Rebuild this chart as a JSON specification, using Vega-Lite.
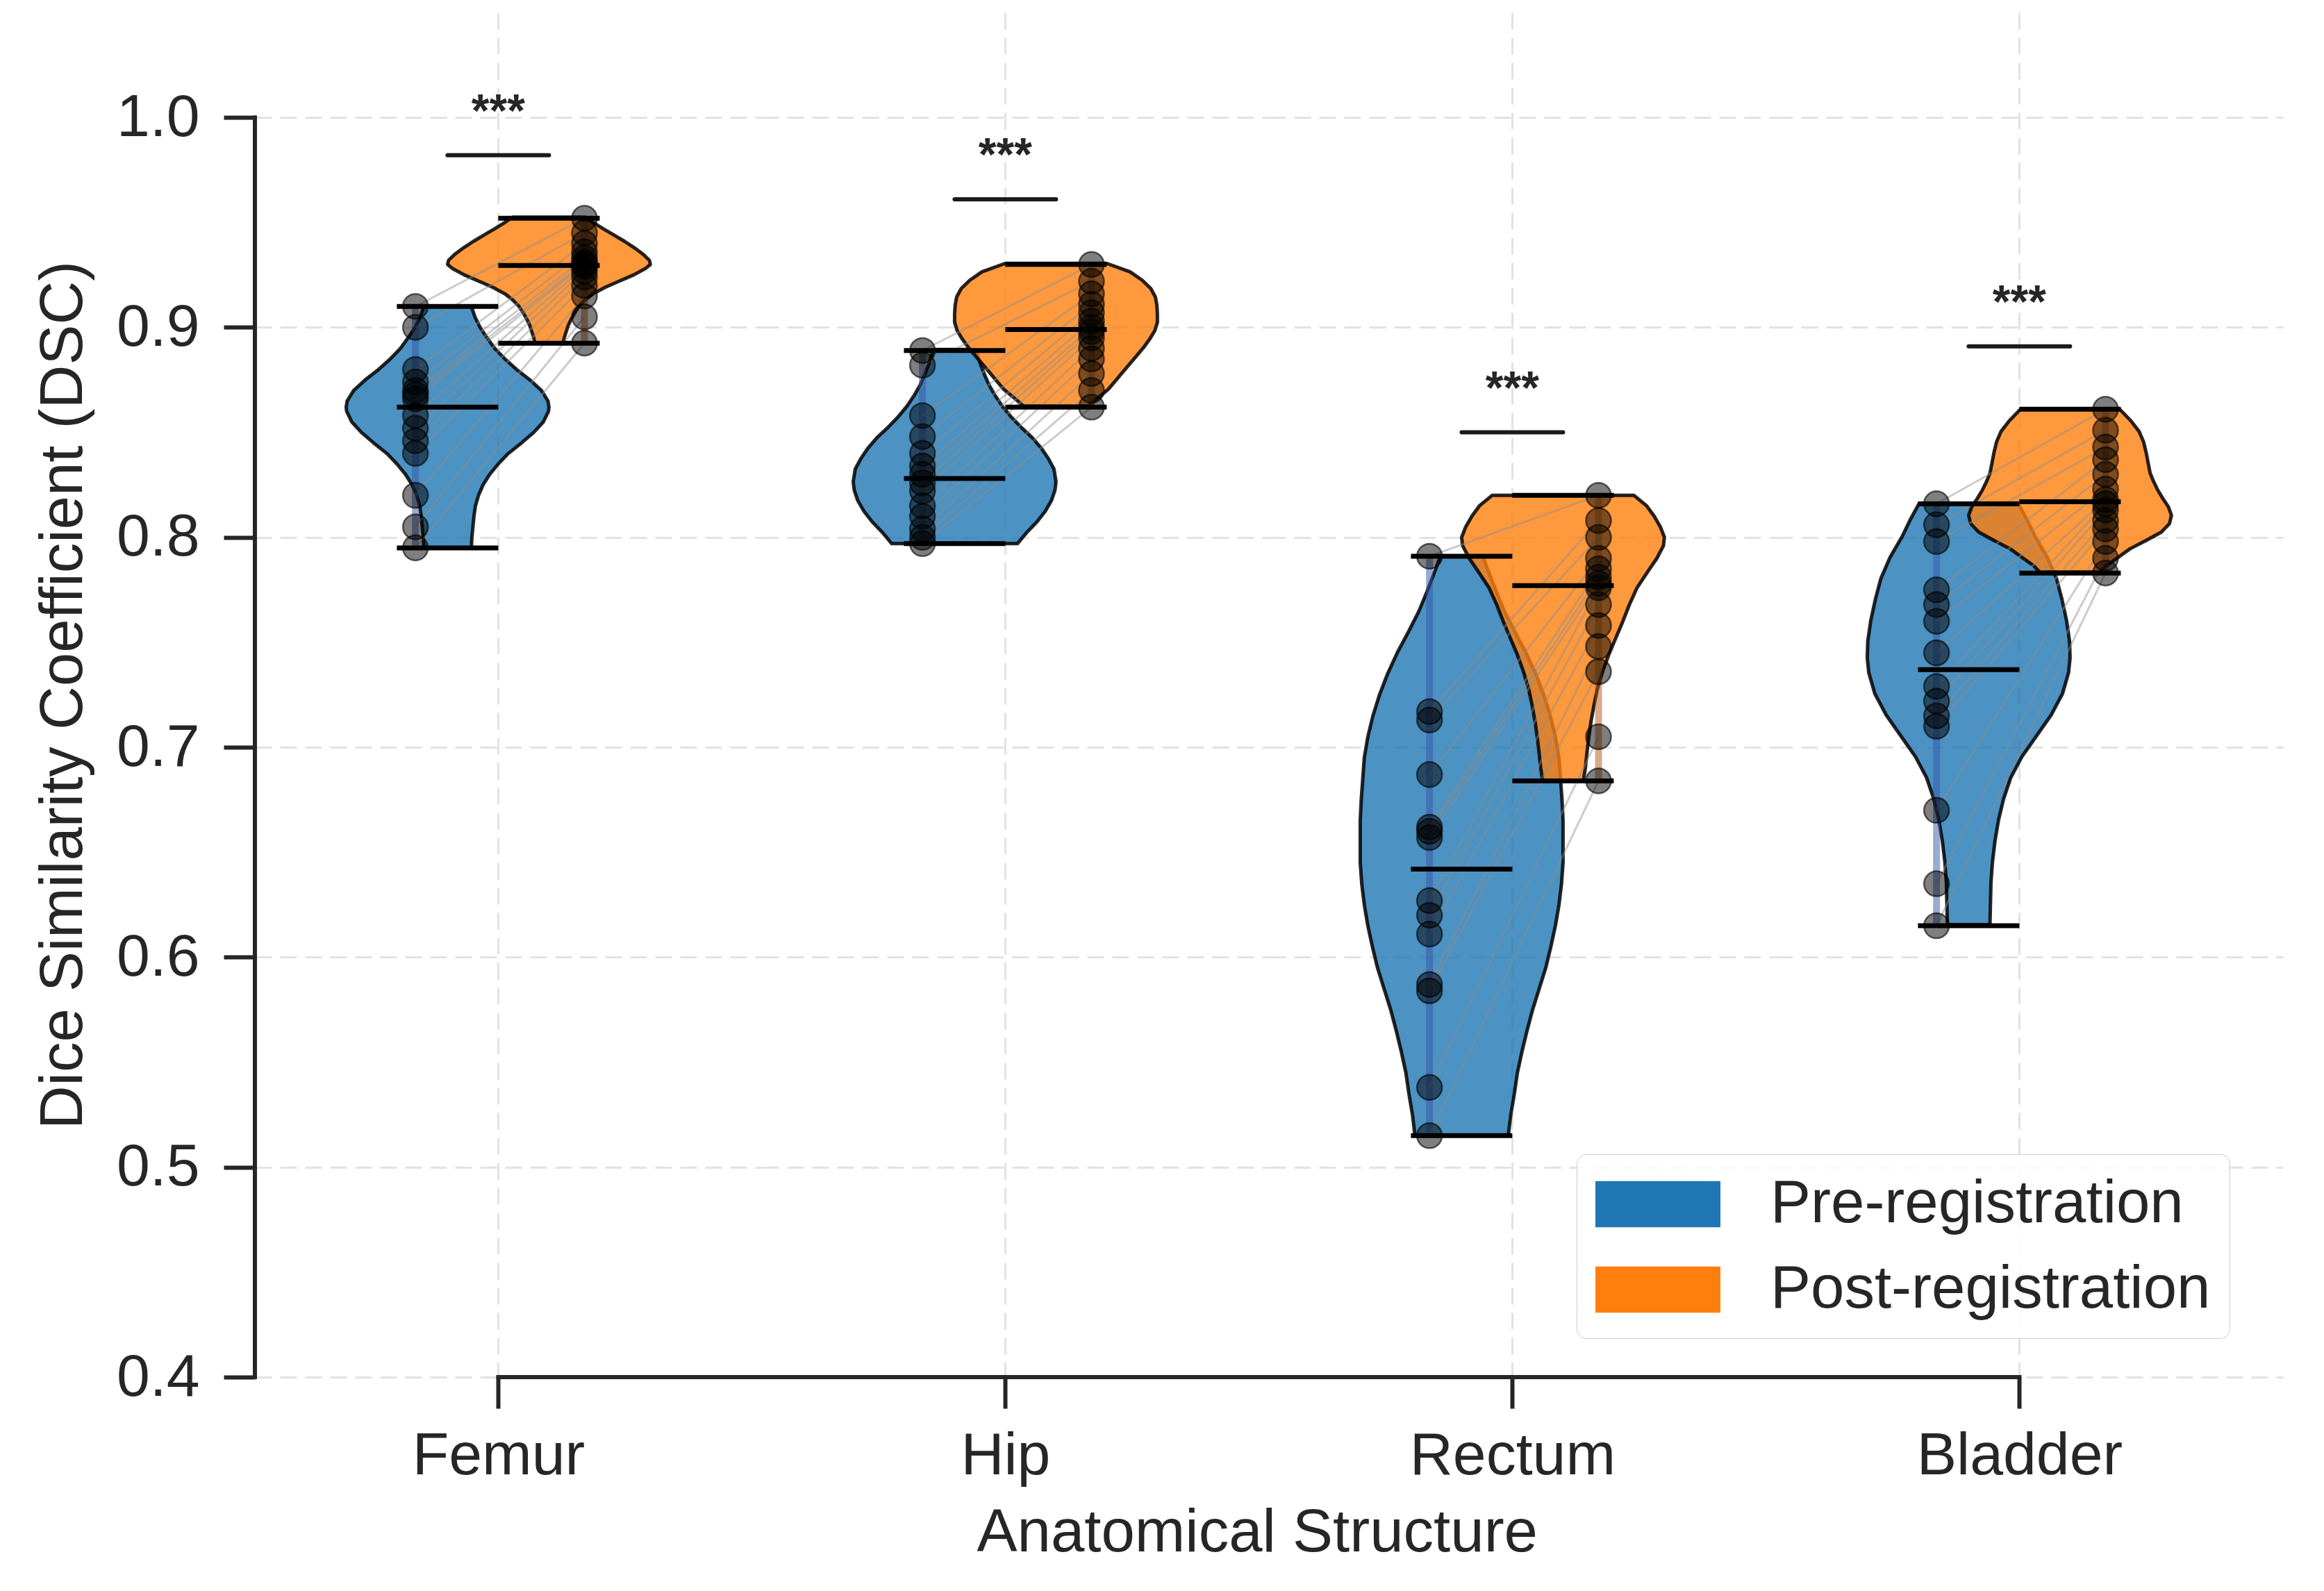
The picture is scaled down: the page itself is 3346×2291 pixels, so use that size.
{
"$schema": "https://vega.github.io/schema/vega-lite/v6.json",
"background": "white",
"padding": {"left": 47, "top": 18, "right": 5, "bottom": 5},
"config": {
  "font": "Liberation Sans",
  "view": {"stroke": null},
  "axis": {"labelFont": "Liberation Sans", "titleFont": "Liberation Sans"},
  "axisY": {"domain": false, "tickSize": 45, "tickWidth": 6, "tickColor": "#262626", "labelFontSize": 86, "labelColor": "#262626", "labelPadding": 35, "grid": true, "gridColor": "#e2e2e2", "gridDash": [24, 12], "gridWidth": 3, "titleFontSize": 87, "titleColor": "#262626", "titleFontWeight": "normal", "titlePadding": 32},
  "axisX": {"domain": false, "tickSize": 45, "tickWidth": 6, "tickColor": "#262626", "labelFontSize": 86, "labelColor": "#262626", "labelPadding": 26, "labelLimit": 0, "grid": true, "gridColor": "#e2e2e2", "gridDash": [24, 12], "gridWidth": 3},
  "legend": {"labelFont": "Liberation Sans"}
},
"title": {"text": "Anatomical Structure", "orient": "bottom", "anchor": "middle", "frame": "bounds", "fontSize": 87, "fontWeight": "normal", "color": "#262626", "font": "Liberation Sans", "offset": 26, "baseline": "top", "dx": 143},
"data": {"values": [
{"kind":"v","structure":"Femur","phase":"Pre-registration","dsc":0.795,"width":0.094},
{"kind":"v","structure":"Femur","phase":"Pre-registration","dsc":0.800,"width":0.096},
{"kind":"v","structure":"Femur","phase":"Pre-registration","dsc":0.805,"width":0.100},
{"kind":"v","structure":"Femur","phase":"Pre-registration","dsc":0.810,"width":0.104},
{"kind":"v","structure":"Femur","phase":"Pre-registration","dsc":0.815,"width":0.110},
{"kind":"v","structure":"Femur","phase":"Pre-registration","dsc":0.820,"width":0.122},
{"kind":"v","structure":"Femur","phase":"Pre-registration","dsc":0.825,"width":0.140},
{"kind":"v","structure":"Femur","phase":"Pre-registration","dsc":0.830,"width":0.166},
{"kind":"v","structure":"Femur","phase":"Pre-registration","dsc":0.835,"width":0.200},
{"kind":"v","structure":"Femur","phase":"Pre-registration","dsc":0.840,"width":0.240},
{"kind":"v","structure":"Femur","phase":"Pre-registration","dsc":0.845,"width":0.292},
{"kind":"v","structure":"Femur","phase":"Pre-registration","dsc":0.850,"width":0.340},
{"kind":"v","structure":"Femur","phase":"Pre-registration","dsc":0.855,"width":0.378},
{"kind":"v","structure":"Femur","phase":"Pre-registration","dsc":0.860,"width":0.398},
{"kind":"v","structure":"Femur","phase":"Pre-registration","dsc":0.862,"width":0.400},
{"kind":"v","structure":"Femur","phase":"Pre-registration","dsc":0.865,"width":0.396},
{"kind":"v","structure":"Femur","phase":"Pre-registration","dsc":0.870,"width":0.370},
{"kind":"v","structure":"Femur","phase":"Pre-registration","dsc":0.875,"width":0.325},
{"kind":"v","structure":"Femur","phase":"Pre-registration","dsc":0.880,"width":0.272},
{"kind":"v","structure":"Femur","phase":"Pre-registration","dsc":0.885,"width":0.226},
{"kind":"v","structure":"Femur","phase":"Pre-registration","dsc":0.890,"width":0.186},
{"kind":"v","structure":"Femur","phase":"Pre-registration","dsc":0.895,"width":0.156},
{"kind":"v","structure":"Femur","phase":"Pre-registration","dsc":0.900,"width":0.128},
{"kind":"v","structure":"Femur","phase":"Pre-registration","dsc":0.905,"width":0.108},
{"kind":"v","structure":"Femur","phase":"Pre-registration","dsc":0.910,"width":0.094},
{"kind":"v","structure":"Hip","phase":"Pre-registration","dsc":0.797,"width":0.248},
{"kind":"v","structure":"Hip","phase":"Pre-registration","dsc":0.8025,"width":0.286},
{"kind":"v","structure":"Hip","phase":"Pre-registration","dsc":0.8075,"width":0.326},
{"kind":"v","structure":"Hip","phase":"Pre-registration","dsc":0.8125,"width":0.358},
{"kind":"v","structure":"Hip","phase":"Pre-registration","dsc":0.8175,"width":0.382},
{"kind":"v","structure":"Hip","phase":"Pre-registration","dsc":0.8225,"width":0.396},
{"kind":"v","structure":"Hip","phase":"Pre-registration","dsc":0.8265,"width":0.400},
{"kind":"v","structure":"Hip","phase":"Pre-registration","dsc":0.8325,"width":0.392},
{"kind":"v","structure":"Hip","phase":"Pre-registration","dsc":0.8375,"width":0.370},
{"kind":"v","structure":"Hip","phase":"Pre-registration","dsc":0.8425,"width":0.342},
{"kind":"v","structure":"Hip","phase":"Pre-registration","dsc":0.8475,"width":0.306},
{"kind":"v","structure":"Hip","phase":"Pre-registration","dsc":0.8525,"width":0.262},
{"kind":"v","structure":"Hip","phase":"Pre-registration","dsc":0.8575,"width":0.222},
{"kind":"v","structure":"Hip","phase":"Pre-registration","dsc":0.8625,"width":0.188},
{"kind":"v","structure":"Hip","phase":"Pre-registration","dsc":0.8675,"width":0.160},
{"kind":"v","structure":"Hip","phase":"Pre-registration","dsc":0.8725,"width":0.136},
{"kind":"v","structure":"Hip","phase":"Pre-registration","dsc":0.8775,"width":0.118},
{"kind":"v","structure":"Hip","phase":"Pre-registration","dsc":0.8825,"width":0.102},
{"kind":"v","structure":"Hip","phase":"Pre-registration","dsc":0.8895,"width":0.084},
{"kind":"v","structure":"Rectum","phase":"Pre-registration","dsc":0.515,"width":0.184},
{"kind":"v","structure":"Rectum","phase":"Pre-registration","dsc":0.525,"width":0.194},
{"kind":"v","structure":"Rectum","phase":"Pre-registration","dsc":0.535,"width":0.208},
{"kind":"v","structure":"Rectum","phase":"Pre-registration","dsc":0.545,"width":0.220},
{"kind":"v","structure":"Rectum","phase":"Pre-registration","dsc":0.555,"width":0.238},
{"kind":"v","structure":"Rectum","phase":"Pre-registration","dsc":0.565,"width":0.258},
{"kind":"v","structure":"Rectum","phase":"Pre-registration","dsc":0.575,"width":0.280},
{"kind":"v","structure":"Rectum","phase":"Pre-registration","dsc":0.585,"width":0.306},
{"kind":"v","structure":"Rectum","phase":"Pre-registration","dsc":0.595,"width":0.332},
{"kind":"v","structure":"Rectum","phase":"Pre-registration","dsc":0.605,"width":0.352},
{"kind":"v","structure":"Rectum","phase":"Pre-registration","dsc":0.615,"width":0.370},
{"kind":"v","structure":"Rectum","phase":"Pre-registration","dsc":0.625,"width":0.384},
{"kind":"v","structure":"Rectum","phase":"Pre-registration","dsc":0.635,"width":0.394},
{"kind":"v","structure":"Rectum","phase":"Pre-registration","dsc":0.645,"width":0.400},
{"kind":"v","structure":"Rectum","phase":"Pre-registration","dsc":0.655,"width":0.400},
{"kind":"v","structure":"Rectum","phase":"Pre-registration","dsc":0.665,"width":0.400},
{"kind":"v","structure":"Rectum","phase":"Pre-registration","dsc":0.675,"width":0.396},
{"kind":"v","structure":"Rectum","phase":"Pre-registration","dsc":0.685,"width":0.390},
{"kind":"v","structure":"Rectum","phase":"Pre-registration","dsc":0.695,"width":0.384},
{"kind":"v","structure":"Rectum","phase":"Pre-registration","dsc":0.705,"width":0.370},
{"kind":"v","structure":"Rectum","phase":"Pre-registration","dsc":0.715,"width":0.350},
{"kind":"v","structure":"Rectum","phase":"Pre-registration","dsc":0.725,"width":0.324},
{"kind":"v","structure":"Rectum","phase":"Pre-registration","dsc":0.735,"width":0.292},
{"kind":"v","structure":"Rectum","phase":"Pre-registration","dsc":0.745,"width":0.254},
{"kind":"v","structure":"Rectum","phase":"Pre-registration","dsc":0.755,"width":0.210},
{"kind":"v","structure":"Rectum","phase":"Pre-registration","dsc":0.765,"width":0.168},
{"kind":"v","structure":"Rectum","phase":"Pre-registration","dsc":0.775,"width":0.134},
{"kind":"v","structure":"Rectum","phase":"Pre-registration","dsc":0.785,"width":0.102},
{"kind":"v","structure":"Rectum","phase":"Pre-registration","dsc":0.791,"width":0.084},
{"kind":"v","structure":"Bladder","phase":"Pre-registration","dsc":0.6155,"width":0.084},
{"kind":"v","structure":"Bladder","phase":"Pre-registration","dsc":0.6255,"width":0.086},
{"kind":"v","structure":"Bladder","phase":"Pre-registration","dsc":0.6355,"width":0.088},
{"kind":"v","structure":"Bladder","phase":"Pre-registration","dsc":0.6455,"width":0.094},
{"kind":"v","structure":"Bladder","phase":"Pre-registration","dsc":0.6555,"width":0.104},
{"kind":"v","structure":"Bladder","phase":"Pre-registration","dsc":0.6655,"width":0.118},
{"kind":"v","structure":"Bladder","phase":"Pre-registration","dsc":0.6755,"width":0.138},
{"kind":"v","structure":"Bladder","phase":"Pre-registration","dsc":0.6855,"width":0.166},
{"kind":"v","structure":"Bladder","phase":"Pre-registration","dsc":0.6955,"width":0.210},
{"kind":"v","structure":"Bladder","phase":"Pre-registration","dsc":0.7055,"width":0.268},
{"kind":"v","structure":"Bladder","phase":"Pre-registration","dsc":0.7155,"width":0.326},
{"kind":"v","structure":"Bladder","phase":"Pre-registration","dsc":0.7255,"width":0.370},
{"kind":"v","structure":"Bladder","phase":"Pre-registration","dsc":0.7355,"width":0.394},
{"kind":"v","structure":"Bladder","phase":"Pre-registration","dsc":0.7425,"width":0.400},
{"kind":"v","structure":"Bladder","phase":"Pre-registration","dsc":0.7505,"width":0.398},
{"kind":"v","structure":"Bladder","phase":"Pre-registration","dsc":0.7605,"width":0.386},
{"kind":"v","structure":"Bladder","phase":"Pre-registration","dsc":0.7705,"width":0.368},
{"kind":"v","structure":"Bladder","phase":"Pre-registration","dsc":0.7805,"width":0.346},
{"kind":"v","structure":"Bladder","phase":"Pre-registration","dsc":0.7905,"width":0.310},
{"kind":"v","structure":"Bladder","phase":"Pre-registration","dsc":0.8005,"width":0.262},
{"kind":"v","structure":"Bladder","phase":"Pre-registration","dsc":0.8085,"width":0.230},
{"kind":"v","structure":"Bladder","phase":"Pre-registration","dsc":0.8160,"width":0.196},
{"kind":"v","structure":"Femur","phase":"Post-registration","dsc":0.8925,"width":0.056},
{"kind":"v","structure":"Femur","phase":"Post-registration","dsc":0.895,"width":0.060},
{"kind":"v","structure":"Femur","phase":"Post-registration","dsc":0.898,"width":0.068},
{"kind":"v","structure":"Femur","phase":"Post-registration","dsc":0.901,"width":0.076},
{"kind":"v","structure":"Femur","phase":"Post-registration","dsc":0.904,"width":0.088},
{"kind":"v","structure":"Femur","phase":"Post-registration","dsc":0.907,"width":0.102},
{"kind":"v","structure":"Femur","phase":"Post-registration","dsc":0.910,"width":0.118},
{"kind":"v","structure":"Femur","phase":"Post-registration","dsc":0.913,"width":0.142},
{"kind":"v","structure":"Femur","phase":"Post-registration","dsc":0.916,"width":0.174},
{"kind":"v","structure":"Femur","phase":"Post-registration","dsc":0.919,"width":0.220},
{"kind":"v","structure":"Femur","phase":"Post-registration","dsc":0.922,"width":0.276},
{"kind":"v","structure":"Femur","phase":"Post-registration","dsc":0.925,"width":0.334},
{"kind":"v","structure":"Femur","phase":"Post-registration","dsc":0.928,"width":0.380},
{"kind":"v","structure":"Femur","phase":"Post-registration","dsc":0.930,"width":0.400},
{"kind":"v","structure":"Femur","phase":"Post-registration","dsc":0.932,"width":0.396},
{"kind":"v","structure":"Femur","phase":"Post-registration","dsc":0.935,"width":0.370},
{"kind":"v","structure":"Femur","phase":"Post-registration","dsc":0.938,"width":0.336},
{"kind":"v","structure":"Femur","phase":"Post-registration","dsc":0.941,"width":0.298},
{"kind":"v","structure":"Femur","phase":"Post-registration","dsc":0.944,"width":0.256},
{"kind":"v","structure":"Femur","phase":"Post-registration","dsc":0.947,"width":0.214},
{"kind":"v","structure":"Femur","phase":"Post-registration","dsc":0.950,"width":0.174},
{"kind":"v","structure":"Femur","phase":"Post-registration","dsc":0.9525,"width":0.144},
{"kind":"v","structure":"Hip","phase":"Post-registration","dsc":0.8625,"width":0.128},
{"kind":"v","structure":"Hip","phase":"Post-registration","dsc":0.8665,"width":0.166},
{"kind":"v","structure":"Hip","phase":"Post-registration","dsc":0.8705,"width":0.206},
{"kind":"v","structure":"Hip","phase":"Post-registration","dsc":0.8745,"width":0.234},
{"kind":"v","structure":"Hip","phase":"Post-registration","dsc":0.8785,"width":0.262},
{"kind":"v","structure":"Hip","phase":"Post-registration","dsc":0.8825,"width":0.290},
{"kind":"v","structure":"Hip","phase":"Post-registration","dsc":0.8865,"width":0.318},
{"kind":"v","structure":"Hip","phase":"Post-registration","dsc":0.8905,"width":0.346},
{"kind":"v","structure":"Hip","phase":"Post-registration","dsc":0.8945,"width":0.370},
{"kind":"v","structure":"Hip","phase":"Post-registration","dsc":0.8985,"width":0.390},
{"kind":"v","structure":"Hip","phase":"Post-registration","dsc":0.9025,"width":0.400},
{"kind":"v","structure":"Hip","phase":"Post-registration","dsc":0.9065,"width":0.400},
{"kind":"v","structure":"Hip","phase":"Post-registration","dsc":0.9105,"width":0.398},
{"kind":"v","structure":"Hip","phase":"Post-registration","dsc":0.9145,"width":0.392},
{"kind":"v","structure":"Hip","phase":"Post-registration","dsc":0.9185,"width":0.374},
{"kind":"v","structure":"Hip","phase":"Post-registration","dsc":0.9225,"width":0.340},
{"kind":"v","structure":"Hip","phase":"Post-registration","dsc":0.9265,"width":0.292},
{"kind":"v","structure":"Hip","phase":"Post-registration","dsc":0.9305,"width":0.200},
{"kind":"v","structure":"Rectum","phase":"Post-registration","dsc":0.684,"width":0.080},
{"kind":"v","structure":"Rectum","phase":"Post-registration","dsc":0.690,"width":0.088},
{"kind":"v","structure":"Rectum","phase":"Post-registration","dsc":0.697,"width":0.094},
{"kind":"v","structure":"Rectum","phase":"Post-registration","dsc":0.705,"width":0.102},
{"kind":"v","structure":"Rectum","phase":"Post-registration","dsc":0.712,"width":0.110},
{"kind":"v","structure":"Rectum","phase":"Post-registration","dsc":0.720,"width":0.122},
{"kind":"v","structure":"Rectum","phase":"Post-registration","dsc":0.728,"width":0.136},
{"kind":"v","structure":"Rectum","phase":"Post-registration","dsc":0.736,"width":0.156},
{"kind":"v","structure":"Rectum","phase":"Post-registration","dsc":0.744,"width":0.180},
{"kind":"v","structure":"Rectum","phase":"Post-registration","dsc":0.752,"width":0.208},
{"kind":"v","structure":"Rectum","phase":"Post-registration","dsc":0.760,"width":0.236},
{"kind":"v","structure":"Rectum","phase":"Post-registration","dsc":0.768,"width":0.262},
{"kind":"v","structure":"Rectum","phase":"Post-registration","dsc":0.776,"width":0.292},
{"kind":"v","structure":"Rectum","phase":"Post-registration","dsc":0.784,"width":0.336},
{"kind":"v","structure":"Rectum","phase":"Post-registration","dsc":0.790,"width":0.370},
{"kind":"v","structure":"Rectum","phase":"Post-registration","dsc":0.796,"width":0.396},
{"kind":"v","structure":"Rectum","phase":"Post-registration","dsc":0.800,"width":0.400},
{"kind":"v","structure":"Rectum","phase":"Post-registration","dsc":0.805,"width":0.384},
{"kind":"v","structure":"Rectum","phase":"Post-registration","dsc":0.810,"width":0.360},
{"kind":"v","structure":"Rectum","phase":"Post-registration","dsc":0.815,"width":0.330},
{"kind":"v","structure":"Rectum","phase":"Post-registration","dsc":0.820,"width":0.280},
{"kind":"v","structure":"Bladder","phase":"Post-registration","dsc":0.7835,"width":0.120},
{"kind":"v","structure":"Bladder","phase":"Post-registration","dsc":0.7865,"width":0.144},
{"kind":"v","structure":"Bladder","phase":"Post-registration","dsc":0.7905,"width":0.190},
{"kind":"v","structure":"Bladder","phase":"Post-registration","dsc":0.7945,"width":0.236},
{"kind":"v","structure":"Bladder","phase":"Post-registration","dsc":0.7985,"width":0.300},
{"kind":"v","structure":"Bladder","phase":"Post-registration","dsc":0.8025,"width":0.360},
{"kind":"v","structure":"Bladder","phase":"Post-registration","dsc":0.8065,"width":0.392},
{"kind":"v","structure":"Bladder","phase":"Post-registration","dsc":0.8105,"width":0.400},
{"kind":"v","structure":"Bladder","phase":"Post-registration","dsc":0.8145,"width":0.388},
{"kind":"v","structure":"Bladder","phase":"Post-registration","dsc":0.8185,"width":0.366},
{"kind":"v","structure":"Bladder","phase":"Post-registration","dsc":0.8225,"width":0.346},
{"kind":"v","structure":"Bladder","phase":"Post-registration","dsc":0.8265,"width":0.330},
{"kind":"v","structure":"Bladder","phase":"Post-registration","dsc":0.8305,"width":0.316},
{"kind":"v","structure":"Bladder","phase":"Post-registration","dsc":0.8355,"width":0.308},
{"kind":"v","structure":"Bladder","phase":"Post-registration","dsc":0.8405,"width":0.300},
{"kind":"v","structure":"Bladder","phase":"Post-registration","dsc":0.8455,"width":0.290},
{"kind":"v","structure":"Bladder","phase":"Post-registration","dsc":0.8505,"width":0.272},
{"kind":"v","structure":"Bladder","phase":"Post-registration","dsc":0.8555,"width":0.240},
{"kind":"v","structure":"Bladder","phase":"Post-registration","dsc":0.8610,"width":0.196},
{"kind":"pt","structure":"Femur","phase":"Pre-registration","patient":"P01","dsc":0.910},
{"kind":"pt","structure":"Femur","phase":"Pre-registration","patient":"P02","dsc":0.900},
{"kind":"pt","structure":"Femur","phase":"Pre-registration","patient":"P03","dsc":0.880},
{"kind":"pt","structure":"Femur","phase":"Pre-registration","patient":"P04","dsc":0.874},
{"kind":"pt","structure":"Femur","phase":"Pre-registration","patient":"P05","dsc":0.870},
{"kind":"pt","structure":"Femur","phase":"Pre-registration","patient":"P06","dsc":0.868},
{"kind":"pt","structure":"Femur","phase":"Pre-registration","patient":"P07","dsc":0.866},
{"kind":"pt","structure":"Femur","phase":"Pre-registration","patient":"P08","dsc":0.858},
{"kind":"pt","structure":"Femur","phase":"Pre-registration","patient":"P09","dsc":0.852},
{"kind":"pt","structure":"Femur","phase":"Pre-registration","patient":"P10","dsc":0.846},
{"kind":"pt","structure":"Femur","phase":"Pre-registration","patient":"P11","dsc":0.840},
{"kind":"pt","structure":"Femur","phase":"Pre-registration","patient":"P12","dsc":0.820},
{"kind":"pt","structure":"Femur","phase":"Pre-registration","patient":"P13","dsc":0.805},
{"kind":"pt","structure":"Femur","phase":"Pre-registration","patient":"P14","dsc":0.795},
{"kind":"pt","structure":"Femur","phase":"Post-registration","patient":"P01","dsc":0.952},
{"kind":"pt","structure":"Femur","phase":"Post-registration","patient":"P02","dsc":0.945},
{"kind":"pt","structure":"Femur","phase":"Post-registration","patient":"P03","dsc":0.940},
{"kind":"pt","structure":"Femur","phase":"Post-registration","patient":"P04","dsc":0.936},
{"kind":"pt","structure":"Femur","phase":"Post-registration","patient":"P05","dsc":0.933},
{"kind":"pt","structure":"Femur","phase":"Post-registration","patient":"P06","dsc":0.931},
{"kind":"pt","structure":"Femur","phase":"Post-registration","patient":"P07","dsc":0.930},
{"kind":"pt","structure":"Femur","phase":"Post-registration","patient":"P08","dsc":0.929},
{"kind":"pt","structure":"Femur","phase":"Post-registration","patient":"P09","dsc":0.927},
{"kind":"pt","structure":"Femur","phase":"Post-registration","patient":"P10","dsc":0.924},
{"kind":"pt","structure":"Femur","phase":"Post-registration","patient":"P11","dsc":0.920},
{"kind":"pt","structure":"Femur","phase":"Post-registration","patient":"P12","dsc":0.915},
{"kind":"pt","structure":"Femur","phase":"Post-registration","patient":"P13","dsc":0.905},
{"kind":"pt","structure":"Femur","phase":"Post-registration","patient":"P14","dsc":0.8925},
{"kind":"pt","structure":"Hip","phase":"Pre-registration","patient":"P01","dsc":0.889},
{"kind":"pt","structure":"Hip","phase":"Pre-registration","patient":"P02","dsc":0.882},
{"kind":"pt","structure":"Hip","phase":"Pre-registration","patient":"P03","dsc":0.858},
{"kind":"pt","structure":"Hip","phase":"Pre-registration","patient":"P04","dsc":0.848},
{"kind":"pt","structure":"Hip","phase":"Pre-registration","patient":"P05","dsc":0.840},
{"kind":"pt","structure":"Hip","phase":"Pre-registration","patient":"P06","dsc":0.834},
{"kind":"pt","structure":"Hip","phase":"Pre-registration","patient":"P07","dsc":0.830},
{"kind":"pt","structure":"Hip","phase":"Pre-registration","patient":"P08","dsc":0.826},
{"kind":"pt","structure":"Hip","phase":"Pre-registration","patient":"P09","dsc":0.822},
{"kind":"pt","structure":"Hip","phase":"Pre-registration","patient":"P10","dsc":0.815},
{"kind":"pt","structure":"Hip","phase":"Pre-registration","patient":"P11","dsc":0.810},
{"kind":"pt","structure":"Hip","phase":"Pre-registration","patient":"P12","dsc":0.804},
{"kind":"pt","structure":"Hip","phase":"Pre-registration","patient":"P13","dsc":0.800},
{"kind":"pt","structure":"Hip","phase":"Pre-registration","patient":"P14","dsc":0.797},
{"kind":"pt","structure":"Hip","phase":"Post-registration","patient":"P01","dsc":0.930},
{"kind":"pt","structure":"Hip","phase":"Post-registration","patient":"P02","dsc":0.922},
{"kind":"pt","structure":"Hip","phase":"Post-registration","patient":"P03","dsc":0.916},
{"kind":"pt","structure":"Hip","phase":"Post-registration","patient":"P04","dsc":0.911},
{"kind":"pt","structure":"Hip","phase":"Post-registration","patient":"P05","dsc":0.907},
{"kind":"pt","structure":"Hip","phase":"Post-registration","patient":"P06","dsc":0.903},
{"kind":"pt","structure":"Hip","phase":"Post-registration","patient":"P07","dsc":0.900},
{"kind":"pt","structure":"Hip","phase":"Post-registration","patient":"P08","dsc":0.898},
{"kind":"pt","structure":"Hip","phase":"Post-registration","patient":"P09","dsc":0.895},
{"kind":"pt","structure":"Hip","phase":"Post-registration","patient":"P10","dsc":0.890},
{"kind":"pt","structure":"Hip","phase":"Post-registration","patient":"P11","dsc":0.885},
{"kind":"pt","structure":"Hip","phase":"Post-registration","patient":"P12","dsc":0.878},
{"kind":"pt","structure":"Hip","phase":"Post-registration","patient":"P13","dsc":0.870},
{"kind":"pt","structure":"Hip","phase":"Post-registration","patient":"P14","dsc":0.862},
{"kind":"pt","structure":"Rectum","phase":"Pre-registration","patient":"P01","dsc":0.791},
{"kind":"pt","structure":"Rectum","phase":"Pre-registration","patient":"P02","dsc":0.717},
{"kind":"pt","structure":"Rectum","phase":"Pre-registration","patient":"P03","dsc":0.713},
{"kind":"pt","structure":"Rectum","phase":"Pre-registration","patient":"P04","dsc":0.687},
{"kind":"pt","structure":"Rectum","phase":"Pre-registration","patient":"P05","dsc":0.662},
{"kind":"pt","structure":"Rectum","phase":"Pre-registration","patient":"P06","dsc":0.660},
{"kind":"pt","structure":"Rectum","phase":"Pre-registration","patient":"P07","dsc":0.657},
{"kind":"pt","structure":"Rectum","phase":"Pre-registration","patient":"P08","dsc":0.627},
{"kind":"pt","structure":"Rectum","phase":"Pre-registration","patient":"P09","dsc":0.620},
{"kind":"pt","structure":"Rectum","phase":"Pre-registration","patient":"P10","dsc":0.611},
{"kind":"pt","structure":"Rectum","phase":"Pre-registration","patient":"P11","dsc":0.587},
{"kind":"pt","structure":"Rectum","phase":"Pre-registration","patient":"P12","dsc":0.584},
{"kind":"pt","structure":"Rectum","phase":"Pre-registration","patient":"P13","dsc":0.538},
{"kind":"pt","structure":"Rectum","phase":"Pre-registration","patient":"P14","dsc":0.515},
{"kind":"pt","structure":"Rectum","phase":"Post-registration","patient":"P01","dsc":0.820},
{"kind":"pt","structure":"Rectum","phase":"Post-registration","patient":"P02","dsc":0.808},
{"kind":"pt","structure":"Rectum","phase":"Post-registration","patient":"P03","dsc":0.800},
{"kind":"pt","structure":"Rectum","phase":"Post-registration","patient":"P04","dsc":0.790},
{"kind":"pt","structure":"Rectum","phase":"Post-registration","patient":"P05","dsc":0.785},
{"kind":"pt","structure":"Rectum","phase":"Post-registration","patient":"P06","dsc":0.781},
{"kind":"pt","structure":"Rectum","phase":"Post-registration","patient":"P07","dsc":0.778},
{"kind":"pt","structure":"Rectum","phase":"Post-registration","patient":"P08","dsc":0.776},
{"kind":"pt","structure":"Rectum","phase":"Post-registration","patient":"P09","dsc":0.768},
{"kind":"pt","structure":"Rectum","phase":"Post-registration","patient":"P10","dsc":0.758},
{"kind":"pt","structure":"Rectum","phase":"Post-registration","patient":"P11","dsc":0.748},
{"kind":"pt","structure":"Rectum","phase":"Post-registration","patient":"P12","dsc":0.736},
{"kind":"pt","structure":"Rectum","phase":"Post-registration","patient":"P13","dsc":0.705},
{"kind":"pt","structure":"Rectum","phase":"Post-registration","patient":"P14","dsc":0.684},
{"kind":"pt","structure":"Bladder","phase":"Pre-registration","patient":"P01","dsc":0.816},
{"kind":"pt","structure":"Bladder","phase":"Pre-registration","patient":"P02","dsc":0.806},
{"kind":"pt","structure":"Bladder","phase":"Pre-registration","patient":"P03","dsc":0.798},
{"kind":"pt","structure":"Bladder","phase":"Pre-registration","patient":"P04","dsc":0.775},
{"kind":"pt","structure":"Bladder","phase":"Pre-registration","patient":"P05","dsc":0.768},
{"kind":"pt","structure":"Bladder","phase":"Pre-registration","patient":"P06","dsc":0.760},
{"kind":"pt","structure":"Bladder","phase":"Pre-registration","patient":"P07","dsc":0.745},
{"kind":"pt","structure":"Bladder","phase":"Pre-registration","patient":"P08","dsc":0.729},
{"kind":"pt","structure":"Bladder","phase":"Pre-registration","patient":"P09","dsc":0.722},
{"kind":"pt","structure":"Bladder","phase":"Pre-registration","patient":"P10","dsc":0.715},
{"kind":"pt","structure":"Bladder","phase":"Pre-registration","patient":"P11","dsc":0.710},
{"kind":"pt","structure":"Bladder","phase":"Pre-registration","patient":"P12","dsc":0.670},
{"kind":"pt","structure":"Bladder","phase":"Pre-registration","patient":"P13","dsc":0.635},
{"kind":"pt","structure":"Bladder","phase":"Pre-registration","patient":"P14","dsc":0.615},
{"kind":"pt","structure":"Bladder","phase":"Post-registration","patient":"P01","dsc":0.861},
{"kind":"pt","structure":"Bladder","phase":"Post-registration","patient":"P02","dsc":0.851},
{"kind":"pt","structure":"Bladder","phase":"Post-registration","patient":"P03","dsc":0.843},
{"kind":"pt","structure":"Bladder","phase":"Post-registration","patient":"P04","dsc":0.837},
{"kind":"pt","structure":"Bladder","phase":"Post-registration","patient":"P05","dsc":0.830},
{"kind":"pt","structure":"Bladder","phase":"Post-registration","patient":"P06","dsc":0.823},
{"kind":"pt","structure":"Bladder","phase":"Post-registration","patient":"P07","dsc":0.818},
{"kind":"pt","structure":"Bladder","phase":"Post-registration","patient":"P08","dsc":0.816},
{"kind":"pt","structure":"Bladder","phase":"Post-registration","patient":"P09","dsc":0.813},
{"kind":"pt","structure":"Bladder","phase":"Post-registration","patient":"P10","dsc":0.808},
{"kind":"pt","structure":"Bladder","phase":"Post-registration","patient":"P11","dsc":0.804},
{"kind":"pt","structure":"Bladder","phase":"Post-registration","patient":"P12","dsc":0.798},
{"kind":"pt","structure":"Bladder","phase":"Post-registration","patient":"P13","dsc":0.790},
{"kind":"pt","structure":"Bladder","phase":"Post-registration","patient":"P14","dsc":0.783},
{"kind":"sig","structure":"Femur","level":0.982,"label":"***"},
{"kind":"sig","structure":"Hip","level":0.961,"label":"***"},
{"kind":"sig","structure":"Rectum","level":0.850,"label":"***"},
{"kind":"sig","structure":"Bladder","level":0.891,"label":"***"}
]},
"spacing": 0,
"bounds": "flush",
"resolve": {"scale": {"color": "shared"}},
"hconcat": [
{
  "width": 730, "height": 1965,
  "transform": [{"filter": "datum.structure === 'Femur'"}],
  "resolve": {"scale": {"x": "independent"}},
  "layer": [
    {"transform": [{"filter": "datum.kind === 'sig'"}],
     "mark": {"type": "rule", "stroke": "#1a1a1a", "strokeWidth": 6, "strokeCap": "round"},
     "encoding": {
       "x": {"datum": -0.1, "type": "quantitative", "scale": {"domain": [-0.48, 0.52], "nice": false, "zero": false}, "axis": {"values": [0], "labelExpr": "'Femur'", "title": null}},
       "x2": {"datum": 0.1},
       "y": {"field": "level", "type": "quantitative", "scale": {"domain": [0.4, 1.05], "nice": false, "zero": false}, "axis": {"values": [0.4, 0.5, 0.6, 0.7, 0.8, 0.9, 1.0], "format": ".1f", "title": "Dice Similarity Coefficient (DSC)"}}}},
    {"transform": [{"filter": "datum.kind === 'v' && datum.phase === 'Pre-registration'"}],
     "mark": {"type": "area", "orient": "horizontal", "fillOpacity": 0.8, "stroke": "#000000", "strokeOpacity": 0.85, "strokeWidth": 5, "strokeJoin": "round"},
     "encoding": {
       "y": {"field": "dsc", "type": "quantitative", "axis": {"values": [0.4, 0.5, 0.6, 0.7, 0.8, 0.9, 1.0], "format": ".1f", "title": "Dice Similarity Coefficient (DSC)"}},
       "x": {"field": "width", "type": "quantitative", "stack": "center", "impute": null, "scale": {"domain": [-0.18, 0.82], "nice": false, "zero": false}, "axis": null},
       "color": {"field": "phase", "type": "nominal", "scale": {"domain": ["Pre-registration", "Post-registration"], "range": ["#1f77b4", "#ff7f0e"]},
         "legend": {"orient": "none", "legendX": 1903, "legendY": 1644, "title": null, "symbolType": "M-1,-0.74H3V0.74H-1Z", "symbolSize": 8100, "symbolStrokeWidth": 0, "symbolOpacity": 1, "labelFontSize": 87, "labelColor": "#262626", "labelOffset": 162, "rowPadding": 35, "padding": 27, "cornerRadius": 14, "strokeColor": "#cccccc", "fillColor": "rgba(255,255,255,0.85)", "labelLimit": 0,
           "encode": {"symbols": {"update": {"fillOpacity": {"value": 1}, "strokeWidth": {"value": 0}}}}}}}},
    {"transform": [{"filter": "datum.kind === 'v' && datum.phase === 'Post-registration'"}],
     "mark": {"type": "area", "orient": "horizontal", "fillOpacity": 0.8, "stroke": "#000000", "strokeOpacity": 0.85, "strokeWidth": 5, "strokeJoin": "round"},
     "encoding": {
       "y": {"field": "dsc", "type": "quantitative", "axis": {"values": [0.4, 0.5, 0.6, 0.7, 0.8, 0.9, 1.0], "format": ".1f", "title": "Dice Similarity Coefficient (DSC)"}},
       "x": {"field": "width", "type": "quantitative", "stack": "center", "impute": null, "scale": {"domain": [-0.38, 0.62], "nice": false, "zero": false}, "axis": null},
       "color": {"field": "phase", "type": "nominal", "scale": {"domain": ["Pre-registration", "Post-registration"], "range": ["#1f77b4", "#ff7f0e"]}}}},
    {"transform": [{"filter": "datum.kind === 'pt'"}],
     "mark": {"type": "rule", "strokeWidth": 10, "strokeOpacity": 0.5},
     "encoding": {
       "x": {"field": "phase", "type": "nominal", "scale": {"type": "point", "domain": ["Pre-registration", "Post-registration"], "padding": 2, "align": 0.475}, "axis": null},
       "y": {"aggregate": "min", "field": "dsc", "type": "quantitative", "axis": {"values": [0.4, 0.5, 0.6, 0.7, 0.8, 0.9, 1.0], "format": ".1f", "title": "Dice Similarity Coefficient (DSC)"}},
       "y2": {"aggregate": "max", "field": "dsc"},
       "stroke": {"field": "phase", "type": "nominal", "scale": {"domain": ["Pre-registration", "Post-registration"], "range": ["#3355aa", "#b35a10"]}, "legend": null}}},
    {"transform": [{"filter": "datum.kind === 'pt'"}],
     "mark": {"type": "line", "stroke": "#8c8c8c", "strokeWidth": 3, "strokeOpacity": 0.45},
     "encoding": {
       "x": {"field": "phase", "type": "nominal", "scale": {"type": "point", "domain": ["Pre-registration", "Post-registration"], "padding": 2, "align": 0.475}, "axis": null},
       "y": {"field": "dsc", "type": "quantitative", "axis": {"values": [0.4, 0.5, 0.6, 0.7, 0.8, 0.9, 1.0], "format": ".1f", "title": "Dice Similarity Coefficient (DSC)"}},
       "detail": {"field": "patient", "type": "nominal"}}},
    {"transform": [{"filter": "datum.kind === 'pt'"}],
     "mark": {"type": "circle", "size": 1300, "fill": "#000000", "fillOpacity": 0.5, "stroke": "#000000", "strokeWidth": 2.5, "strokeOpacity": 0.6},
     "encoding": {
       "x": {"field": "phase", "type": "nominal", "scale": {"type": "point", "domain": ["Pre-registration", "Post-registration"], "padding": 2, "align": 0.475}, "axis": null},
       "y": {"field": "dsc", "type": "quantitative", "axis": {"values": [0.4, 0.5, 0.6, 0.7, 0.8, 0.9, 1.0], "format": ".1f", "title": "Dice Similarity Coefficient (DSC)"}}}},
    {"transform": [{"filter": "datum.kind === 'pt' && datum.phase === 'Pre-registration'"},
       {"aggregate": [{"op": "min", "field": "dsc", "as": "mn"}, {"op": "median", "field": "dsc", "as": "md"}, {"op": "max", "field": "dsc", "as": "mx"}], "groupby": ["structure"]},
       {"fold": ["mn", "md", "mx"], "as": ["stat", "value"]}],
     "mark": {"type": "rule", "stroke": "#000000", "strokeWidth": 7},
     "encoding": {
       "x": {"datum": -0.2, "type": "quantitative", "scale": {"domain": [-0.48, 0.52], "nice": false, "zero": false}, "axis": null},
       "x2": {"datum": 0.0},
       "y": {"field": "value", "type": "quantitative", "axis": {"values": [0.4, 0.5, 0.6, 0.7, 0.8, 0.9, 1.0], "format": ".1f", "title": "Dice Similarity Coefficient (DSC)"}}}},
    {"transform": [{"filter": "datum.kind === 'pt' && datum.phase === 'Post-registration'"},
       {"aggregate": [{"op": "min", "field": "dsc", "as": "mn"}, {"op": "median", "field": "dsc", "as": "md"}, {"op": "max", "field": "dsc", "as": "mx"}], "groupby": ["structure"]},
       {"fold": ["mn", "md", "mx"], "as": ["stat", "value"]}],
     "mark": {"type": "rule", "stroke": "#000000", "strokeWidth": 7},
     "encoding": {
       "x": {"datum": 0.0, "type": "quantitative", "scale": {"domain": [-0.48, 0.52], "nice": false, "zero": false}, "axis": null},
       "x2": {"datum": 0.2},
       "y": {"field": "value", "type": "quantitative", "axis": {"values": [0.4, 0.5, 0.6, 0.7, 0.8, 0.9, 1.0], "format": ".1f", "title": "Dice Similarity Coefficient (DSC)"}}}},
    {"transform": [{"filter": "datum.kind === 'sig'"}],
     "mark": {"type": "text", "fontSize": 66, "fontWeight": "bold", "color": "#262626", "align": "center", "baseline": "alphabetic", "dy": -42},
     "encoding": {
       "x": {"datum": 0, "type": "quantitative", "scale": {"domain": [-0.48, 0.52], "nice": false, "zero": false}, "axis": null},
       "y": {"field": "level", "type": "quantitative", "axis": {"values": [0.4, 0.5, 0.6, 0.7, 0.8, 0.9, 1.0], "format": ".1f", "title": "Dice Similarity Coefficient (DSC)"}},
       "text": {"field": "label", "type": "nominal"}}},
    {"transform": [{"filter": "datum.kind === 'sig'"}],
     "mark": {"type": "rule", "stroke": "#262626", "strokeWidth": 6, "strokeCap": "square"},
     "encoding": {
       "x": {"datum": -0.48, "type": "quantitative", "scale": {"domain": [-0.48, 0.52], "nice": false, "zero": false}, "axis": null},
       "y": {"datum": 0.4, "type": "quantitative", "axis": {"values": [0.4, 0.5, 0.6, 0.7, 0.8, 0.9, 1.0], "format": ".1f", "title": "Dice Similarity Coefficient (DSC)"}},
       "y2": {"datum": 1.0}}},
    {"transform": [{"filter": "datum.kind === 'sig'"}],
     "mark": {"type": "rule", "stroke": "#262626", "strokeWidth": 6, "strokeCap": "square"},
     "encoding": {
       "x": {"datum": 0.0, "type": "quantitative", "scale": {"domain": [-0.48, 0.52], "nice": false, "zero": false}, "axis": null},
       "x2": {"datum": 0.52},
       "y": {"datum": 0.4, "type": "quantitative", "axis": {"values": [0.4, 0.5, 0.6, 0.7, 0.8, 0.9, 1.0], "format": ".1f", "title": "Dice Similarity Coefficient (DSC)"}}}}
  ]
},
{
  "width": 730, "height": 1965,
  "transform": [{"filter": "datum.structure === 'Hip'"}],
  "resolve": {"scale": {"x": "independent"}},
  "layer": [
    {"transform": [{"filter": "datum.kind === 'sig'"}],
     "mark": {"type": "rule", "stroke": "#1a1a1a", "strokeWidth": 6, "strokeCap": "round"},
     "encoding": {
       "x": {"datum": -0.1, "type": "quantitative", "scale": {"domain": [-0.48, 0.52], "nice": false, "zero": false}, "axis": {"values": [0], "labelExpr": "'Hip'", "title": null}},
       "x2": {"datum": 0.1},
       "y": {"field": "level", "type": "quantitative", "scale": {"domain": [0.4, 1.05], "nice": false, "zero": false}, "axis": {"values": [0.4, 0.5, 0.6, 0.7, 0.8, 0.9, 1.0], "labels": false, "ticks": false, "title": null}}}},
    {"transform": [{"filter": "datum.kind === 'v' && datum.phase === 'Pre-registration'"}],
     "mark": {"type": "area", "orient": "horizontal", "fillOpacity": 0.8, "stroke": "#000000", "strokeOpacity": 0.85, "strokeWidth": 5, "strokeJoin": "round"},
     "encoding": {
       "y": {"field": "dsc", "type": "quantitative", "axis": {"values": [0.4, 0.5, 0.6, 0.7, 0.8, 0.9, 1.0], "labels": false, "ticks": false, "title": null}},
       "x": {"field": "width", "type": "quantitative", "stack": "center", "impute": null, "scale": {"domain": [-0.18, 0.82], "nice": false, "zero": false}, "axis": null},
       "color": {"field": "phase", "type": "nominal", "scale": {"domain": ["Pre-registration", "Post-registration"], "range": ["#1f77b4", "#ff7f0e"]}}}},
    {"transform": [{"filter": "datum.kind === 'v' && datum.phase === 'Post-registration'"}],
     "mark": {"type": "area", "orient": "horizontal", "fillOpacity": 0.8, "stroke": "#000000", "strokeOpacity": 0.85, "strokeWidth": 5, "strokeJoin": "round"},
     "encoding": {
       "y": {"field": "dsc", "type": "quantitative", "axis": {"values": [0.4, 0.5, 0.6, 0.7, 0.8, 0.9, 1.0], "labels": false, "ticks": false, "title": null}},
       "x": {"field": "width", "type": "quantitative", "stack": "center", "impute": null, "scale": {"domain": [-0.38, 0.62], "nice": false, "zero": false}, "axis": null},
       "color": {"field": "phase", "type": "nominal", "scale": {"domain": ["Pre-registration", "Post-registration"], "range": ["#1f77b4", "#ff7f0e"]}}}},
    {"transform": [{"filter": "datum.kind === 'pt'"}],
     "mark": {"type": "rule", "strokeWidth": 10, "strokeOpacity": 0.5},
     "encoding": {
       "x": {"field": "phase", "type": "nominal", "scale": {"type": "point", "domain": ["Pre-registration", "Post-registration"], "padding": 2, "align": 0.475}, "axis": null},
       "y": {"aggregate": "min", "field": "dsc", "type": "quantitative", "axis": {"values": [0.4, 0.5, 0.6, 0.7, 0.8, 0.9, 1.0], "labels": false, "ticks": false, "title": null}},
       "y2": {"aggregate": "max", "field": "dsc"},
       "stroke": {"field": "phase", "type": "nominal", "scale": {"domain": ["Pre-registration", "Post-registration"], "range": ["#3355aa", "#b35a10"]}, "legend": null}}},
    {"transform": [{"filter": "datum.kind === 'pt'"}],
     "mark": {"type": "line", "stroke": "#8c8c8c", "strokeWidth": 3, "strokeOpacity": 0.45},
     "encoding": {
       "x": {"field": "phase", "type": "nominal", "scale": {"type": "point", "domain": ["Pre-registration", "Post-registration"], "padding": 2, "align": 0.475}, "axis": null},
       "y": {"field": "dsc", "type": "quantitative", "axis": {"values": [0.4, 0.5, 0.6, 0.7, 0.8, 0.9, 1.0], "labels": false, "ticks": false, "title": null}},
       "detail": {"field": "patient", "type": "nominal"}}},
    {"transform": [{"filter": "datum.kind === 'pt'"}],
     "mark": {"type": "circle", "size": 1300, "fill": "#000000", "fillOpacity": 0.5, "stroke": "#000000", "strokeWidth": 2.5, "strokeOpacity": 0.6},
     "encoding": {
       "x": {"field": "phase", "type": "nominal", "scale": {"type": "point", "domain": ["Pre-registration", "Post-registration"], "padding": 2, "align": 0.475}, "axis": null},
       "y": {"field": "dsc", "type": "quantitative", "axis": {"values": [0.4, 0.5, 0.6, 0.7, 0.8, 0.9, 1.0], "labels": false, "ticks": false, "title": null}}}},
    {"transform": [{"filter": "datum.kind === 'pt' && datum.phase === 'Pre-registration'"},
       {"aggregate": [{"op": "min", "field": "dsc", "as": "mn"}, {"op": "median", "field": "dsc", "as": "md"}, {"op": "max", "field": "dsc", "as": "mx"}], "groupby": ["structure"]},
       {"fold": ["mn", "md", "mx"], "as": ["stat", "value"]}],
     "mark": {"type": "rule", "stroke": "#000000", "strokeWidth": 7},
     "encoding": {
       "x": {"datum": -0.2, "type": "quantitative", "scale": {"domain": [-0.48, 0.52], "nice": false, "zero": false}, "axis": null},
       "x2": {"datum": 0.0},
       "y": {"field": "value", "type": "quantitative", "axis": {"values": [0.4, 0.5, 0.6, 0.7, 0.8, 0.9, 1.0], "labels": false, "ticks": false, "title": null}}}},
    {"transform": [{"filter": "datum.kind === 'pt' && datum.phase === 'Post-registration'"},
       {"aggregate": [{"op": "min", "field": "dsc", "as": "mn"}, {"op": "median", "field": "dsc", "as": "md"}, {"op": "max", "field": "dsc", "as": "mx"}], "groupby": ["structure"]},
       {"fold": ["mn", "md", "mx"], "as": ["stat", "value"]}],
     "mark": {"type": "rule", "stroke": "#000000", "strokeWidth": 7},
     "encoding": {
       "x": {"datum": 0.0, "type": "quantitative", "scale": {"domain": [-0.48, 0.52], "nice": false, "zero": false}, "axis": null},
       "x2": {"datum": 0.2},
       "y": {"field": "value", "type": "quantitative", "axis": {"values": [0.4, 0.5, 0.6, 0.7, 0.8, 0.9, 1.0], "labels": false, "ticks": false, "title": null}}}},
    {"transform": [{"filter": "datum.kind === 'sig'"}],
     "mark": {"type": "text", "fontSize": 66, "fontWeight": "bold", "color": "#262626", "align": "center", "baseline": "alphabetic", "dy": -42},
     "encoding": {
       "x": {"datum": 0, "type": "quantitative", "scale": {"domain": [-0.48, 0.52], "nice": false, "zero": false}, "axis": null},
       "y": {"field": "level", "type": "quantitative", "axis": {"values": [0.4, 0.5, 0.6, 0.7, 0.8, 0.9, 1.0], "labels": false, "ticks": false, "title": null}},
       "text": {"field": "label", "type": "nominal"}}},
    {"transform": [{"filter": "datum.kind === 'sig'"}],
     "mark": {"type": "rule", "stroke": "#262626", "strokeWidth": 6, "strokeCap": "square"},
     "encoding": {
       "x": {"datum": -0.48, "type": "quantitative", "scale": {"domain": [-0.48, 0.52], "nice": false, "zero": false}, "axis": null},
       "x2": {"datum": 0.52},
       "y": {"datum": 0.4, "type": "quantitative", "axis": {"values": [0.4, 0.5, 0.6, 0.7, 0.8, 0.9, 1.0], "labels": false, "ticks": false, "title": null}}}}
  ]
},
{
  "width": 730, "height": 1965,
  "transform": [{"filter": "datum.structure === 'Rectum'"}],
  "resolve": {"scale": {"x": "independent"}},
  "layer": [
    {"transform": [{"filter": "datum.kind === 'sig'"}],
     "mark": {"type": "rule", "stroke": "#1a1a1a", "strokeWidth": 6, "strokeCap": "round"},
     "encoding": {
       "x": {"datum": -0.1, "type": "quantitative", "scale": {"domain": [-0.48, 0.52], "nice": false, "zero": false}, "axis": {"values": [0], "labelExpr": "'Rectum'", "title": null}},
       "x2": {"datum": 0.1},
       "y": {"field": "level", "type": "quantitative", "scale": {"domain": [0.4, 1.05], "nice": false, "zero": false}, "axis": {"values": [0.4, 0.5, 0.6, 0.7, 0.8, 0.9, 1.0], "labels": false, "ticks": false, "title": null}}}},
    {"transform": [{"filter": "datum.kind === 'v' && datum.phase === 'Pre-registration'"}],
     "mark": {"type": "area", "orient": "horizontal", "fillOpacity": 0.8, "stroke": "#000000", "strokeOpacity": 0.85, "strokeWidth": 5, "strokeJoin": "round"},
     "encoding": {
       "y": {"field": "dsc", "type": "quantitative", "axis": {"values": [0.4, 0.5, 0.6, 0.7, 0.8, 0.9, 1.0], "labels": false, "ticks": false, "title": null}},
       "x": {"field": "width", "type": "quantitative", "stack": "center", "impute": null, "scale": {"domain": [-0.18, 0.82], "nice": false, "zero": false}, "axis": null},
       "color": {"field": "phase", "type": "nominal", "scale": {"domain": ["Pre-registration", "Post-registration"], "range": ["#1f77b4", "#ff7f0e"]}}}},
    {"transform": [{"filter": "datum.kind === 'v' && datum.phase === 'Post-registration'"}],
     "mark": {"type": "area", "orient": "horizontal", "fillOpacity": 0.8, "stroke": "#000000", "strokeOpacity": 0.85, "strokeWidth": 5, "strokeJoin": "round"},
     "encoding": {
       "y": {"field": "dsc", "type": "quantitative", "axis": {"values": [0.4, 0.5, 0.6, 0.7, 0.8, 0.9, 1.0], "labels": false, "ticks": false, "title": null}},
       "x": {"field": "width", "type": "quantitative", "stack": "center", "impute": null, "scale": {"domain": [-0.38, 0.62], "nice": false, "zero": false}, "axis": null},
       "color": {"field": "phase", "type": "nominal", "scale": {"domain": ["Pre-registration", "Post-registration"], "range": ["#1f77b4", "#ff7f0e"]}}}},
    {"transform": [{"filter": "datum.kind === 'pt'"}],
     "mark": {"type": "rule", "strokeWidth": 10, "strokeOpacity": 0.5},
     "encoding": {
       "x": {"field": "phase", "type": "nominal", "scale": {"type": "point", "domain": ["Pre-registration", "Post-registration"], "padding": 2, "align": 0.475}, "axis": null},
       "y": {"aggregate": "min", "field": "dsc", "type": "quantitative", "axis": {"values": [0.4, 0.5, 0.6, 0.7, 0.8, 0.9, 1.0], "labels": false, "ticks": false, "title": null}},
       "y2": {"aggregate": "max", "field": "dsc"},
       "stroke": {"field": "phase", "type": "nominal", "scale": {"domain": ["Pre-registration", "Post-registration"], "range": ["#3355aa", "#b35a10"]}, "legend": null}}},
    {"transform": [{"filter": "datum.kind === 'pt'"}],
     "mark": {"type": "line", "stroke": "#8c8c8c", "strokeWidth": 3, "strokeOpacity": 0.45},
     "encoding": {
       "x": {"field": "phase", "type": "nominal", "scale": {"type": "point", "domain": ["Pre-registration", "Post-registration"], "padding": 2, "align": 0.475}, "axis": null},
       "y": {"field": "dsc", "type": "quantitative", "axis": {"values": [0.4, 0.5, 0.6, 0.7, 0.8, 0.9, 1.0], "labels": false, "ticks": false, "title": null}},
       "detail": {"field": "patient", "type": "nominal"}}},
    {"transform": [{"filter": "datum.kind === 'pt'"}],
     "mark": {"type": "circle", "size": 1300, "fill": "#000000", "fillOpacity": 0.5, "stroke": "#000000", "strokeWidth": 2.5, "strokeOpacity": 0.6},
     "encoding": {
       "x": {"field": "phase", "type": "nominal", "scale": {"type": "point", "domain": ["Pre-registration", "Post-registration"], "padding": 2, "align": 0.475}, "axis": null},
       "y": {"field": "dsc", "type": "quantitative", "axis": {"values": [0.4, 0.5, 0.6, 0.7, 0.8, 0.9, 1.0], "labels": false, "ticks": false, "title": null}}}},
    {"transform": [{"filter": "datum.kind === 'pt' && datum.phase === 'Pre-registration'"},
       {"aggregate": [{"op": "min", "field": "dsc", "as": "mn"}, {"op": "median", "field": "dsc", "as": "md"}, {"op": "max", "field": "dsc", "as": "mx"}], "groupby": ["structure"]},
       {"fold": ["mn", "md", "mx"], "as": ["stat", "value"]}],
     "mark": {"type": "rule", "stroke": "#000000", "strokeWidth": 7},
     "encoding": {
       "x": {"datum": -0.2, "type": "quantitative", "scale": {"domain": [-0.48, 0.52], "nice": false, "zero": false}, "axis": null},
       "x2": {"datum": 0.0},
       "y": {"field": "value", "type": "quantitative", "axis": {"values": [0.4, 0.5, 0.6, 0.7, 0.8, 0.9, 1.0], "labels": false, "ticks": false, "title": null}}}},
    {"transform": [{"filter": "datum.kind === 'pt' && datum.phase === 'Post-registration'"},
       {"aggregate": [{"op": "min", "field": "dsc", "as": "mn"}, {"op": "median", "field": "dsc", "as": "md"}, {"op": "max", "field": "dsc", "as": "mx"}], "groupby": ["structure"]},
       {"fold": ["mn", "md", "mx"], "as": ["stat", "value"]}],
     "mark": {"type": "rule", "stroke": "#000000", "strokeWidth": 7},
     "encoding": {
       "x": {"datum": 0.0, "type": "quantitative", "scale": {"domain": [-0.48, 0.52], "nice": false, "zero": false}, "axis": null},
       "x2": {"datum": 0.2},
       "y": {"field": "value", "type": "quantitative", "axis": {"values": [0.4, 0.5, 0.6, 0.7, 0.8, 0.9, 1.0], "labels": false, "ticks": false, "title": null}}}},
    {"transform": [{"filter": "datum.kind === 'sig'"}],
     "mark": {"type": "text", "fontSize": 66, "fontWeight": "bold", "color": "#262626", "align": "center", "baseline": "alphabetic", "dy": -42},
     "encoding": {
       "x": {"datum": 0, "type": "quantitative", "scale": {"domain": [-0.48, 0.52], "nice": false, "zero": false}, "axis": null},
       "y": {"field": "level", "type": "quantitative", "axis": {"values": [0.4, 0.5, 0.6, 0.7, 0.8, 0.9, 1.0], "labels": false, "ticks": false, "title": null}},
       "text": {"field": "label", "type": "nominal"}}},
    {"transform": [{"filter": "datum.kind === 'sig'"}],
     "mark": {"type": "rule", "stroke": "#262626", "strokeWidth": 6, "strokeCap": "square"},
     "encoding": {
       "x": {"datum": -0.48, "type": "quantitative", "scale": {"domain": [-0.48, 0.52], "nice": false, "zero": false}, "axis": null},
       "x2": {"datum": 0.52},
       "y": {"datum": 0.4, "type": "quantitative", "axis": {"values": [0.4, 0.5, 0.6, 0.7, 0.8, 0.9, 1.0], "labels": false, "ticks": false, "title": null}}}}
  ]
},
{
  "width": 730, "height": 1965,
  "transform": [{"filter": "datum.structure === 'Bladder'"}],
  "resolve": {"scale": {"x": "independent"}},
  "layer": [
    {"transform": [{"filter": "datum.kind === 'sig'"}],
     "mark": {"type": "rule", "stroke": "#1a1a1a", "strokeWidth": 6, "strokeCap": "round"},
     "encoding": {
       "x": {"datum": -0.1, "type": "quantitative", "scale": {"domain": [-0.48, 0.52], "nice": false, "zero": false}, "axis": {"values": [0], "labelExpr": "'Bladder'", "title": null}},
       "x2": {"datum": 0.1},
       "y": {"field": "level", "type": "quantitative", "scale": {"domain": [0.4, 1.05], "nice": false, "zero": false}, "axis": {"values": [0.4, 0.5, 0.6, 0.7, 0.8, 0.9, 1.0], "labels": false, "ticks": false, "title": null}}}},
    {"transform": [{"filter": "datum.kind === 'v' && datum.phase === 'Pre-registration'"}],
     "mark": {"type": "area", "orient": "horizontal", "fillOpacity": 0.8, "stroke": "#000000", "strokeOpacity": 0.85, "strokeWidth": 5, "strokeJoin": "round"},
     "encoding": {
       "y": {"field": "dsc", "type": "quantitative", "axis": {"values": [0.4, 0.5, 0.6, 0.7, 0.8, 0.9, 1.0], "labels": false, "ticks": false, "title": null}},
       "x": {"field": "width", "type": "quantitative", "stack": "center", "impute": null, "scale": {"domain": [-0.18, 0.82], "nice": false, "zero": false}, "axis": null},
       "color": {"field": "phase", "type": "nominal", "scale": {"domain": ["Pre-registration", "Post-registration"], "range": ["#1f77b4", "#ff7f0e"]}}}},
    {"transform": [{"filter": "datum.kind === 'v' && datum.phase === 'Post-registration'"}],
     "mark": {"type": "area", "orient": "horizontal", "fillOpacity": 0.8, "stroke": "#000000", "strokeOpacity": 0.85, "strokeWidth": 5, "strokeJoin": "round"},
     "encoding": {
       "y": {"field": "dsc", "type": "quantitative", "axis": {"values": [0.4, 0.5, 0.6, 0.7, 0.8, 0.9, 1.0], "labels": false, "ticks": false, "title": null}},
       "x": {"field": "width", "type": "quantitative", "stack": "center", "impute": null, "scale": {"domain": [-0.38, 0.62], "nice": false, "zero": false}, "axis": null},
       "color": {"field": "phase", "type": "nominal", "scale": {"domain": ["Pre-registration", "Post-registration"], "range": ["#1f77b4", "#ff7f0e"]}}}},
    {"transform": [{"filter": "datum.kind === 'pt'"}],
     "mark": {"type": "rule", "strokeWidth": 10, "strokeOpacity": 0.5},
     "encoding": {
       "x": {"field": "phase", "type": "nominal", "scale": {"type": "point", "domain": ["Pre-registration", "Post-registration"], "padding": 2, "align": 0.475}, "axis": null},
       "y": {"aggregate": "min", "field": "dsc", "type": "quantitative", "axis": {"values": [0.4, 0.5, 0.6, 0.7, 0.8, 0.9, 1.0], "labels": false, "ticks": false, "title": null}},
       "y2": {"aggregate": "max", "field": "dsc"},
       "stroke": {"field": "phase", "type": "nominal", "scale": {"domain": ["Pre-registration", "Post-registration"], "range": ["#3355aa", "#b35a10"]}, "legend": null}}},
    {"transform": [{"filter": "datum.kind === 'pt'"}],
     "mark": {"type": "line", "stroke": "#8c8c8c", "strokeWidth": 3, "strokeOpacity": 0.45},
     "encoding": {
       "x": {"field": "phase", "type": "nominal", "scale": {"type": "point", "domain": ["Pre-registration", "Post-registration"], "padding": 2, "align": 0.475}, "axis": null},
       "y": {"field": "dsc", "type": "quantitative", "axis": {"values": [0.4, 0.5, 0.6, 0.7, 0.8, 0.9, 1.0], "labels": false, "ticks": false, "title": null}},
       "detail": {"field": "patient", "type": "nominal"}}},
    {"transform": [{"filter": "datum.kind === 'pt'"}],
     "mark": {"type": "circle", "size": 1300, "fill": "#000000", "fillOpacity": 0.5, "stroke": "#000000", "strokeWidth": 2.5, "strokeOpacity": 0.6},
     "encoding": {
       "x": {"field": "phase", "type": "nominal", "scale": {"type": "point", "domain": ["Pre-registration", "Post-registration"], "padding": 2, "align": 0.475}, "axis": null},
       "y": {"field": "dsc", "type": "quantitative", "axis": {"values": [0.4, 0.5, 0.6, 0.7, 0.8, 0.9, 1.0], "labels": false, "ticks": false, "title": null}}}},
    {"transform": [{"filter": "datum.kind === 'pt' && datum.phase === 'Pre-registration'"},
       {"aggregate": [{"op": "min", "field": "dsc", "as": "mn"}, {"op": "median", "field": "dsc", "as": "md"}, {"op": "max", "field": "dsc", "as": "mx"}], "groupby": ["structure"]},
       {"fold": ["mn", "md", "mx"], "as": ["stat", "value"]}],
     "mark": {"type": "rule", "stroke": "#000000", "strokeWidth": 7},
     "encoding": {
       "x": {"datum": -0.2, "type": "quantitative", "scale": {"domain": [-0.48, 0.52], "nice": false, "zero": false}, "axis": null},
       "x2": {"datum": 0.0},
       "y": {"field": "value", "type": "quantitative", "axis": {"values": [0.4, 0.5, 0.6, 0.7, 0.8, 0.9, 1.0], "labels": false, "ticks": false, "title": null}}}},
    {"transform": [{"filter": "datum.kind === 'pt' && datum.phase === 'Post-registration'"},
       {"aggregate": [{"op": "min", "field": "dsc", "as": "mn"}, {"op": "median", "field": "dsc", "as": "md"}, {"op": "max", "field": "dsc", "as": "mx"}], "groupby": ["structure"]},
       {"fold": ["mn", "md", "mx"], "as": ["stat", "value"]}],
     "mark": {"type": "rule", "stroke": "#000000", "strokeWidth": 7},
     "encoding": {
       "x": {"datum": 0.0, "type": "quantitative", "scale": {"domain": [-0.48, 0.52], "nice": false, "zero": false}, "axis": null},
       "x2": {"datum": 0.2},
       "y": {"field": "value", "type": "quantitative", "axis": {"values": [0.4, 0.5, 0.6, 0.7, 0.8, 0.9, 1.0], "labels": false, "ticks": false, "title": null}}}},
    {"transform": [{"filter": "datum.kind === 'sig'"}],
     "mark": {"type": "text", "fontSize": 66, "fontWeight": "bold", "color": "#262626", "align": "center", "baseline": "alphabetic", "dy": -42},
     "encoding": {
       "x": {"datum": 0, "type": "quantitative", "scale": {"domain": [-0.48, 0.52], "nice": false, "zero": false}, "axis": null},
       "y": {"field": "level", "type": "quantitative", "axis": {"values": [0.4, 0.5, 0.6, 0.7, 0.8, 0.9, 1.0], "labels": false, "ticks": false, "title": null}},
       "text": {"field": "label", "type": "nominal"}}},
    {"transform": [{"filter": "datum.kind === 'sig'"}],
     "mark": {"type": "rule", "stroke": "#262626", "strokeWidth": 6, "strokeCap": "square"},
     "encoding": {
       "x": {"datum": -0.48, "type": "quantitative", "scale": {"domain": [-0.48, 0.52], "nice": false, "zero": false}, "axis": null},
       "x2": {"datum": 0.0},
       "y": {"datum": 0.4, "type": "quantitative", "axis": {"values": [0.4, 0.5, 0.6, 0.7, 0.8, 0.9, 1.0], "labels": false, "ticks": false, "title": null}}}}
  ]
}
]
}
